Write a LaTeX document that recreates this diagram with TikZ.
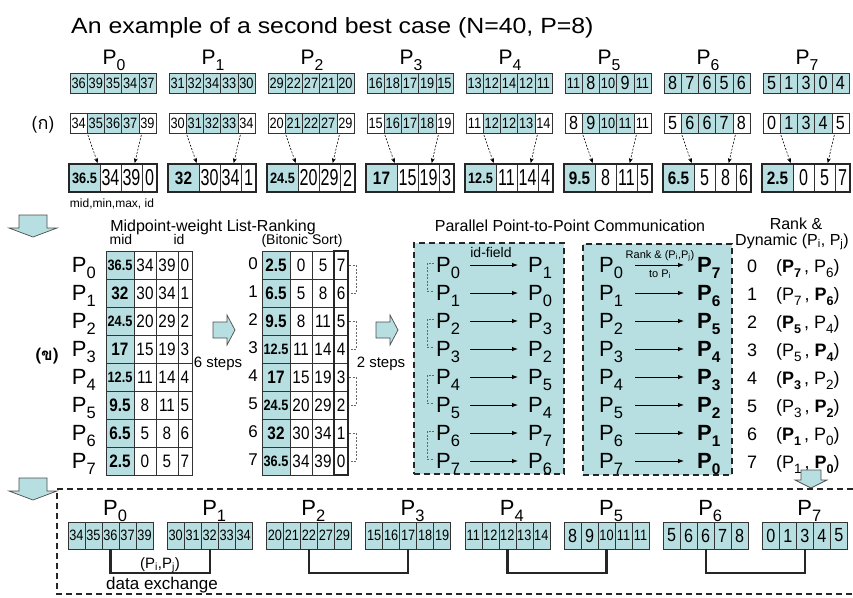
\documentclass[tikz,border=0pt]{standalone}
\usepackage{fontspec}
\setmainfont{Liberation Sans}
\newfontfamily\condfont[FakeStretch=0.85]{Liberation Sans}
\newfontfamily\narrowfont[FakeStretch=0.7]{Liberation Sans}
\newfontfamily\thaifont[Script=Thai]{Loma}
\usetikzlibrary{arrows.meta,positioning,calc}
\definecolor{cyanfill}{RGB}{183,222,224}
\newcommand{\fs}[1]{\fontsize{#1}{#1}\selectfont}
\newcommand{\Pn}[1]{P\raisebox{-.3em}{\scalebox{.75}{#1}}}
\newcommand{\Pb}[1]{\textbf{P\raisebox{-.3em}{\scalebox{.7}{#1}}}}
\newcommand{\cellnum}[1]{\ifnum#1<10 \fs{19}#1\else\fs{15}#1\fi}
\tikzset{
  cell/.style={draw=black!80,line width=.6pt,fill=cyanfill,minimum width=17.2pt,minimum height=20pt,
    inner sep=0pt,outer sep=0pt,anchor=north west,font=\condfont},
  numcell/.style={draw=black!80,line width=.6pt,fill=white,minimum height=28pt,inner sep=0pt,
    outer sep=0pt,font=\condfont\fs{18}},
  midcell/.style={numcell,fill=cyanfill,font=\condfont\bfseries},
  bigp/.style={font=\fs{22},inner sep=0pt},
  thickbox/.style={draw=black!85,line width=2.4pt},
  gap/.style={line width=.6pt,dash pattern=on 2pt off 1.5pt,shorten <=2pt,shorten >=1pt,
    -{Stealth[length=5pt,width=4pt]}},
  panel/.style={draw=black!85,fill=cyanfill,line width=1.6pt,dash pattern=on 6pt off 4pt,
    anchor=north west,inner sep=0pt},
  bracket/.style={draw=black!60,line width=.6pt,dash pattern=on 2pt off 1.5pt},
  send/.style={line width=.9pt,-{Latex[length=6pt,width=4.5pt]}},
  xline/.style={line width=2.4pt,draw=black!85},
  bigdown/.pic={\draw[line width=.7pt,draw=black!70,fill=cyanfill]
    (-14,0) -- (14,0) -- (14,13) -- (24,13) -- (0,22) -- (-24,13) -- (-14,13) -- cycle;},
  smalldown/.pic={\draw[line width=.7pt,draw=black!70,fill=cyanfill]
    (-10,0) -- (10,0) -- (10,10) -- (16,10) -- (0,18) -- (-16,10) -- (-10,10) -- cycle;},
  rightarr/.pic={\draw[line width=.7pt,draw=black!70,fill=cyanfill]
    (0,-8) -- (14,-8) -- (14,-15) -- (22,0) -- (14,15) -- (14,8) -- (0,8) -- cycle;}
}
\begin{document}
\begin{tikzpicture}[x=1pt,y=-1pt]
\useasboundingbox (0,0) rectangle (853,597);
\node[font=\fs{22},anchor=base west,xscale=1.13,inner sep=0pt] (title) at (71,33)
  {An example of a second best case (N=40, P=8)};
\node[font=\thaifont\fs{18},anchor=base,inner sep=0pt] (lbla) at (43,129) {(ก)};
\node[font=\thaifont\bfseries\fs{17},anchor=base,inner sep=0pt] (lblb) at (47,360) {(ข)};

\foreach \p/\va/\vb in {0/{36,39,35,34,37}/{34,35,36,37,39},1/{31,32,34,33,30}/{30,31,32,33,34},
    2/{29,22,27,21,20}/{20,21,22,27,29},3/{16,18,17,19,15}/{15,16,17,18,19},
    4/{13,12,14,12,11}/{11,12,12,13,14},5/{11,8,10,9,11}/{8,9,10,11,11},
    6/{8,7,6,5,6}/{5,6,6,7,8},7/{5,1,3,0,4}/{0,1,3,4,5}}{
  \node[bigp,font=\fs{21},anchor=base] (tp\p) at (114+99*\p,64) {\Pn{\p}};
  \foreach \v [count=\k from 0] in \va
    \node[cell] (a\p-\k) at (70+99*\p+17.2*\k,73) {\cellnum{\v}};
  \foreach \v [count=\k from 0] in \vb {
    \ifnum\k=0 \def\cf{white}\else\ifnum\k=4 \def\cf{white}\else\def\cf{cyanfill}\fi\fi
    \node[cell,fill=\cf] (b\p-\k) at (70+99*\p+17.2*\k,113) {\cellnum{\v}};
    \node[cell,minimum width=17pt,minimum height=27pt] (e\p-\k) at (68+99.2*\p+17*\k,522) {\cellnum{\v}};
  }
  \node[bigp,anchor=base] (bp\p) at (115+99.2*\p,515) {\Pn{\p}};
}

\foreach \p/\m/\ms/\a/\b in {0/36.5/15/34/39,1/32/18/30/34,2/24.5/15/20/29,3/17/18/15/19,
    4/12.5/15/11/14,5/9.5/18/8/11,6/6.5/18/5/8,7/2.5/18/0/5}{
  \node[midcell,minimum width=31pt,anchor=north west] (c\p-0) at (69+99*\p,164) {\fs{\ms}\m};
  \node[numcell,font=\narrowfont\fs{23},minimum width=21pt,right=0pt of c\p-0] (c\p-1) {\a};
  \node[numcell,font=\narrowfont\fs{23},minimum width=21pt,right=0pt of c\p-1] (c\p-2) {\b};
  \node[numcell,font=\narrowfont\fs{23},minimum width=15pt,right=0pt of c\p-2] (c\p-3) {\p};
  \draw[thickbox] (c\p-0.north west) rectangle (c\p-3.south east);
  \draw[gap] (b\p-0.south east) -- ([xshift=-2pt]c\p-1.north west);
  \draw[gap] ([xshift=3pt]b\p-4.south west) -- ([xshift=3pt]c\p-2.north);
  \node[midcell,minimum width=28pt,anchor=north west] (t\p-0) at (106,251+28*\p) {\fs{\ms}\m};
  \node[numcell,minimum width=22pt,right=0pt of t\p-0] (t\p-1) {\a};
  \node[numcell,minimum width=22pt,right=0pt of t\p-1] (t\p-2) {\b};
  \node[numcell,minimum width=14pt,right=0pt of t\p-2] (t\p-3) {\p};
  \node[bigp,anchor=base east] (tl\p) at (96,272+28*\p) {\Pn{\p}};
}
\node[font=\fs{12},anchor=base,inner sep=0pt] (legend) at (112,207) {mid,min,max, id};
\pic at (33,215) {bigdown};
\node[font=\fs{16},anchor=base,inner sep=0pt] (mwtitle) at (213,231) {Midpoint-weight List-Ranking};
\node[font=\fs{14},anchor=base,inner sep=0pt] (hmid) at (121,244) {mid};
\node[font=\fs{14},anchor=base,inner sep=0pt] (hid) at (179,244) {id};
\node[font=\fs{14},anchor=base,inner sep=0pt] (bitonic) at (302,244) {(Bitonic Sort)};

\foreach \r/\m/\ms/\a/\b/\i in {0/2.5/18/0/5/7,1/6.5/18/5/8/6,2/9.5/18/8/11/5,3/12.5/15/11/14/4,
    4/17/18/15/19/3,5/24.5/15/20/29/2,6/32/18/30/34/1,7/36.5/15/34/39/0}{
  \node[midcell,minimum width=28pt,anchor=north west] (s\r-0) at (262,251+28*\r) {\fs{\ms}\m};
  \node[numcell,minimum width=22pt,right=0pt of s\r-0] (s\r-1) {\a};
  \node[numcell,minimum width=22pt,right=0pt of s\r-1] (s\r-2) {\b};
  \node[numcell,minimum width=14pt,right=0pt of s\r-2] (s\r-3) {\i};
  \node[font=\fs{17},anchor=base east,inner sep=0pt] (si\r) at (258,269+28*\r) {\r};
}
\draw[thickbox,line width=2pt] (s0-3.north west) rectangle (s7-3.south east);

\pic at (213,330) {rightarr};
\pic at (376,330) {rightarr};
\node[font=\fs{15},anchor=base,inner sep=0pt] (six) at (218,367) {6 steps};
\node[font=\fs{15},anchor=base,inner sep=0pt] (two) at (381,367) {2 steps};

\node[font=\fs{16},anchor=base,inner sep=0pt] (pptitle) at (570,231) {Parallel Point-to-Point Communication};
\node[panel,minimum width=150pt,minimum height=231pt] (pan1) at (413,242) {};
\node[panel,minimum width=149pt,minimum height=231pt] (pan2) at (582,243) {};

\foreach \r/\d/\e in {0/1/7,1/0/6,2/3/5,3/2/4,4/5/3,5/4/2,6/7/1,7/6/0}{
  \node[bigp,anchor=base west] (q\r) at (436,272+28*\r) {\Pn{\r}};
  \node[bigp,anchor=base west] (d\r) at (528,272+28*\r) {\Pn{\d}};
  \draw[send] ([xshift=10pt,yshift=7pt]q\r.base east) -- ([xshift=-10pt,yshift=7pt]d\r.base west);
  \node[bigp,anchor=base west] (u\r) at (599,272+28*\r) {\Pn{\r}};
  \node[bigp,anchor=base west] (v\r) at (697,272+28*\r) {\Pb{\e}};
  \draw[send] ([xshift=12pt,yshift=7pt]u\r.base east) -- ([xshift=-13pt,yshift=7pt]v\r.base west);
  \node[font=\fs{18},anchor=base,inner sep=0pt] (rn\r) at (752,272+28*\r) {\r};
}
\foreach \u/\w in {0/1,2/3,4/5,6/7}{
  \draw[bracket] ([xshift=1pt]s\u-3.east) -- ++(7,0) |- ([xshift=1pt]s\w-3.east);
  \draw[bracket] ([xshift=-2pt,yshift=9pt]q\u.base west) -- ++(-7,0) |- ([xshift=-2pt,yshift=9pt]q\w.base west);
}
\node[font=\fs{14},anchor=base,inner sep=0pt] (idf) at (491,257) {id-field};
\node[font=\fs{11},anchor=base,inner sep=0pt] (rkto) at (660,258) {Rank \& (P\textsubscript{i},P\textsubscript{j})};
\node[font=\fs{11},anchor=base,inner sep=0pt] (topi) at (660,277) {to P\textsubscript{i}};

\node[font=\fs{16},anchor=base,inner sep=0pt] (rh1) at (796,229) {Rank \&};
\node[font=\fs{16},anchor=base,inner sep=0pt] (rh2) at (792,245) {Dynamic (P\textsubscript{i}, P\textsubscript{j})};
\foreach \r/\pair in {0/{(\Pb{7}\,, \Pn{6})},1/{(\Pn{7}\,, \Pb{6})},2/{(\Pb{5}\,, \Pn{4})},3/{(\Pn{5}\,, \Pb{4})},
    4/{(\Pb{3}\,, \Pn{2})},5/{(\Pn{3}\,, \Pb{2})},6/{(\Pb{1}\,, \Pn{0})},7/{(\Pn{1}\,, \Pb{0})}}
  \node[font=\fs{18},anchor=base west,inner sep=0pt] (rp\r) at (776,272+28*\r) {\pair};

\pic at (33,478) {bigdown};
\pic at (811,470) {smalldown};
\draw[line width=1.3pt,draw=black!85,dash pattern=on 6pt off 4pt] (853,489) -- (57,489) -- (57,594) -- (853,594);
\foreach \u/\w in {0/1,2/3,4/5,6/7}
  \draw[xline] (e\u-2.south) -- ++(0,24) -| (e\w-2.south);
\node[font=\fs{15},anchor=base,inner sep=0pt] (pij) at (160,568) {(P\textsubscript{i},P\textsubscript{j})};
\node[font=\fs{17},anchor=base,inner sep=0pt] (dex) at (162,589) {data exchange};
\end{tikzpicture}
\end{document}
